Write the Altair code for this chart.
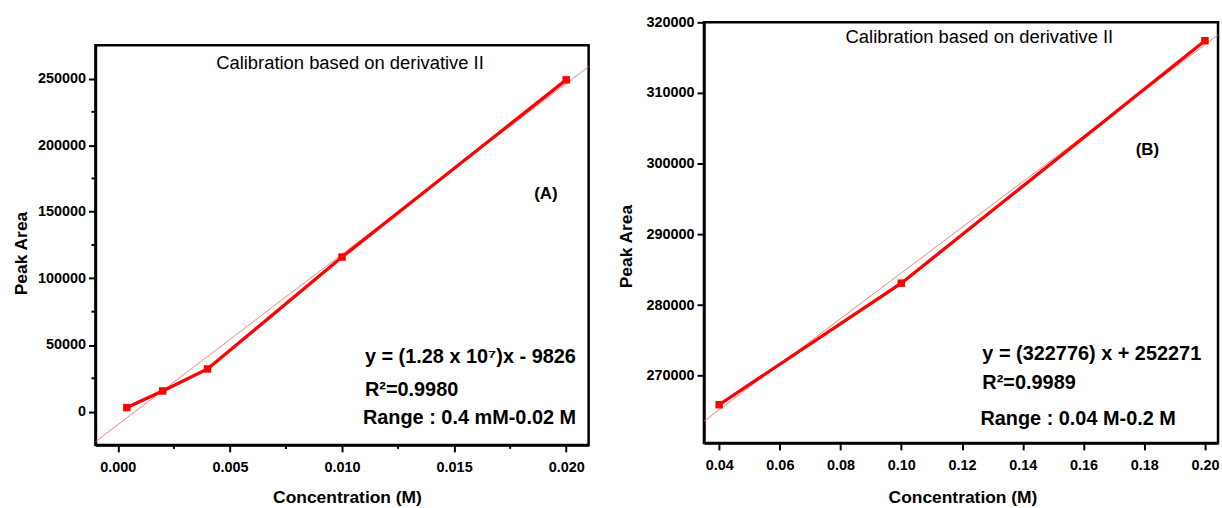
import altair as alt
import pandas as pd

FONT = "Liberation Sans"
RED = "#ff0000"
FIT_RED = "#f07070"

# Panel A: low concentration range
conc_a = [0.0004, 0.002, 0.004, 0.010, 0.020]
area_a = [3000, 15500, 32000, 116000, 249000]
fit_a = (1.28e7, -9826)  # slope, intercept

# Panel B: high concentration range
conc_b = [0.04, 0.10, 0.20]
area_b = [265900, 283100, 317400]
fit_b = (322776, 252271)

x_domain_a = [-0.001, 0.021]
y_domain_a = [-25000, 275000]
x_domain_b = [0.035, 0.2043]
y_domain_b = [260500, 320000]

x_ticks_a = [0.000, 0.005, 0.010, 0.015, 0.020]
x_minor_a = [0.0025, 0.0075, 0.0125, 0.0175]
y_ticks_a = [0, 50000, 100000, 150000, 200000, 250000]
y_minor_a = [25000, 75000, 125000, 175000, 225000]
x_ticks_b = [0.04, 0.06, 0.08, 0.10, 0.12, 0.14, 0.16, 0.18, 0.20]
y_ticks_b = [270000, 280000, 290000, 300000, 310000, 320000]

panel_titles = ["Calibration based on derivative II", "Calibration based on derivative II"]
panel_tags = ["(A)", "(B)"]
eq_a = ["y = (1.28 x 10\u2077)x - 9826", "R\u00b2=0.9980", "Range : 0.4 mM-0.02 M"]
eq_b = ["y = (322776) x + 252271", "R\u00b2=0.9989", "Range : 0.04 M-0.2 M"]
x_title = "Concentration (M)"
y_title = "Peak Area"


def make_axis(values, fmt, title, tx, ty, pad):
    return alt.Axis(
        values=values, format=fmt, title=title, titleX=tx, titleY=ty,
        titleBaseline="middle", titleAlign="center", grid=False,
        domainColor="black", domainWidth=2.5, tickColor="black", tickWidth=2,
        tickSize=7, labelFont=FONT, labelFontSize=14.5, labelFontWeight="bold",
        labelColor="black", labelPadding=pad, labelFlush=False, labelOverlap=False,
        titleFont=FONT, titleFontSize=17.5, titleFontWeight="bold", titleColor="black",
    )


def note(txt, x, y, size, weight, align="left", baseline="alphabetic"):
    return alt.Chart(pd.DataFrame({"label": [txt]})).mark_text(
        align=align, baseline=baseline, font=FONT, fontSize=size,
        fontWeight=weight, color="black",
    ).encode(x=alt.value(x), y=alt.value(y), text="label:N")


def panel(conc, area, fit, xdom, xenc, yenc, w, h, extras):
    pts = pd.DataFrame({"conc": conc, "area": area})
    fit_df = pd.DataFrame({"conc": xdom, "area": [fit[0] * v + fit[1] for v in xdom]})
    fit_line = alt.Chart(fit_df).mark_line(color=FIT_RED, strokeWidth=1, opacity=0.85).encode(x=xenc, y=yenc)
    line = alt.Chart(pts).mark_line(color=RED, strokeWidth=3.3).encode(x=xenc, y=yenc)
    sq = alt.Chart(pts).mark_square(color=RED, size=56, opacity=1).encode(x=xenc, y=yenc)
    return alt.layer(fit_line, line, sq, *extras).properties(
        width=w, height=h, view=alt.ViewBackground(stroke="black", strokeWidth=2.5))


# ---- Panel A ----
WA, HA = 496, 402
XA = alt.X("conc:Q", scale=alt.Scale(domain=x_domain_a, nice=False, zero=False),
           axis=make_axis(x_ticks_a, ".3f", x_title, 253, 53, 9))
YA = alt.Y("area:Q", scale=alt.Scale(domain=y_domain_a, nice=False, zero=False),
           axis=make_axis(y_ticks_a, "d", y_title, -74, 209, 3))
minor_xa = alt.Chart(pd.DataFrame({"conc": x_minor_a})).mark_rule(color="black", strokeWidth=2).encode(
    x=XA, y=alt.value(HA), y2=alt.value(HA + 4))
minor_ya = alt.Chart(pd.DataFrame({"area": y_minor_a})).mark_rule(color="black", strokeWidth=2).encode(
    y=YA, x=alt.value(-4), x2=alt.value(0))
notes_a = [
    note(panel_titles[0], 256, 18, 18.5, "normal", "center", "middle"),
    note(panel_tags[0], 453, 150, 17, "bold", "center", "middle"),
    note(eq_a[0], 271, 320, 20, "bold"),
    note(eq_a[1], 271, 353, 20, "bold"),
    note(eq_a[2], 269, 381, 20, "bold"),
]
panel_a = panel(conc_a, area_a, fit_a, x_domain_a, XA, YA, WA, HA, [minor_xa, minor_ya] + notes_a)

# ---- Panel B ----
WB, HB = 517, 423
XB = alt.X("conc:Q", scale=alt.Scale(domain=x_domain_b, nice=False, zero=False),
           axis=make_axis(x_ticks_b, ".2f", x_title, 260, 55, 9))
YB = alt.Y("area:Q", scale=alt.Scale(domain=y_domain_b, nice=False, zero=False),
           axis=make_axis(y_ticks_b, "d", y_title, -78, 225, 3))
notes_b = [
    note(panel_titles[1], 277, 15, 18.5, "normal", "center", "middle"),
    note(panel_tags[1], 446, 128, 17, "bold", "center", "middle"),
    note(eq_b[0], 280, 340, 20, "bold"),
    note(eq_b[1], 280, 369, 20, "bold"),
    note(eq_b[2], 278, 405, 20, "bold"),
]
panel_b = panel(conc_b, area_b, fit_b, x_domain_b, XB, YB, WB, HB, notes_b)

# empty strip that lowers panel A relative to panel B
spacer = alt.Chart(pd.DataFrame({"conc": [0]})).mark_point(opacity=0).encode(
    x=alt.value(0), y=alt.value(0)
).properties(width=WA, height=20, view=alt.ViewBackground(stroke="transparent"))

chart = alt.hconcat(
    alt.vconcat(spacer, panel_a, spacing=0),
    panel_b,
    spacing=23,
).properties(
    padding={"left": 11, "top": 11, "right": 0, "bottom": 0},
    background="white",
)

chart.save("out.html", embed_options={"renderer": "svg", "actions": False})
